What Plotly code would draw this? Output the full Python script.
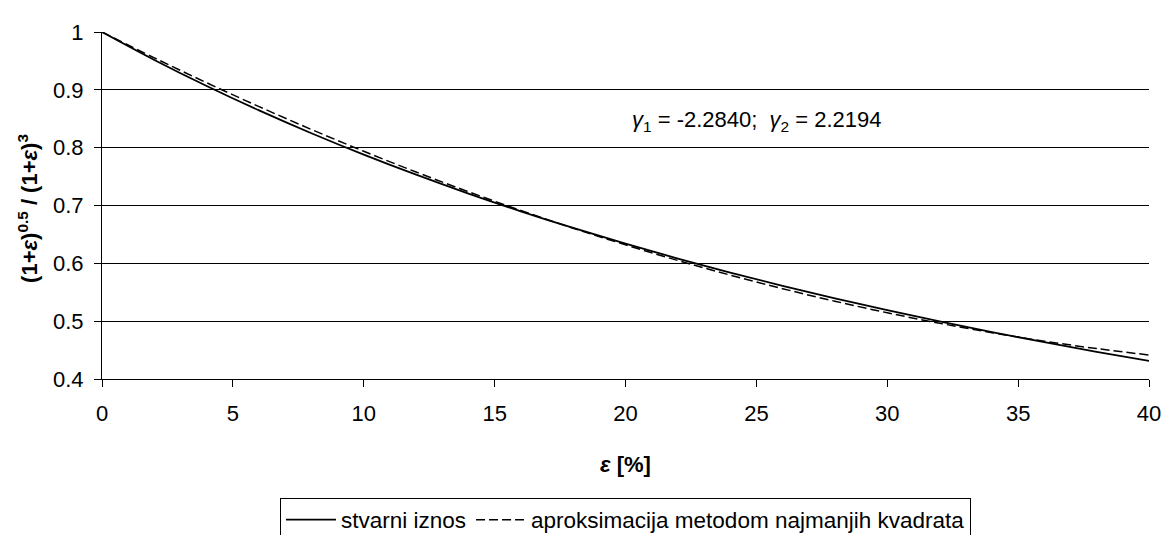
import plotly.graph_objects as go

eps_pct = [0, 2, 4, 6, 8, 10, 12, 14, 16, 18, 20, 22, 24, 26, 28, 30, 32, 34, 36, 38, 40]
actual = [1.0, 0.95170, 0.90660, 0.86444, 0.82498, 0.78799, 0.75328, 0.72067, 0.69001,
          0.66114, 0.63394, 0.60828, 0.58405, 0.56115, 0.53948, 0.51897, 0.49953,
          0.48110, 0.46361, 0.44699, 0.43120]
approx = [1.0, 0.95521, 0.91219, 0.87095, 0.83148, 0.79379, 0.75788, 0.72374, 0.69138,
          0.66079, 0.63198, 0.60494, 0.57968, 0.55619, 0.53448, 0.51455, 0.49639,
          0.48000, 0.46539, 0.45256, 0.44150]
x_ticks = [0, 5, 10, 15, 20, 25, 30, 35, 40]
y_ticks = [0.4, 0.5, 0.6, 0.7, 0.8, 0.9, 1.0]
y_tick_labels = ["0.4", "0.5", "0.6", "0.7", "0.8", "0.9", "1"]
series_names = ["stvarni iznos", "aproksimacija metodom najmanjih kvadrata"]

FONT = "Liberation Sans, Arial, sans-serif"
FS = 22

fig = go.Figure()
fig.add_trace(go.Scatter(x=eps_pct, y=actual, mode="lines", name=series_names[0],
                         line=dict(color="black", width=1.8, shape="spline")))
fig.add_trace(go.Scatter(x=eps_pct, y=approx, mode="lines", name=series_names[1],
                         line=dict(color="black", width=1.5, dash="9px,4px", shape="spline")))

fig.update_layout(
    width=1165, height=527,
    margin=dict(l=94, r=24, t=16, b=156),
    paper_bgcolor="white", plot_bgcolor="white",
    font=dict(family=FONT, size=FS, color="black"),
    showlegend=True,
    legend=dict(orientation="h", xref="paper", x=0.5, xanchor="center",
                yref="container", y=0.071, yanchor="top",
                bordercolor="black", borderwidth=1, bgcolor="white",
                font=dict(size=22.5), itemwidth=50, tracegroupgap=0),
    xaxis=dict(range=[0, 40], tickvals=x_ticks, ticks="outside", ticklen=7,
               tickcolor="black", showline=True, linecolor="black", linewidth=1,
               showgrid=False, zeroline=False, tickfont=dict(size=FS),
               ticklabelstandoff=8),
    yaxis=dict(range=[0.4, 1.0], tickvals=y_ticks, ticktext=y_tick_labels,
               ticks="outside", ticklen=7, tickcolor="black",
               showline=True, linecolor="black", linewidth=1,
               showgrid=True, gridcolor="black", gridwidth=1, zeroline=False,
               tickfont=dict(size=FS), ticklabelstandoff=6),
    annotations=[
        dict(text="<b><i>ε</i> [%]</b>", x=0.5, y=-0.245, xref="paper", yref="paper",
             xanchor="center", yanchor="middle", showarrow=False,
             font=dict(size=FS, family=FONT)),
        dict(text="<b>(1+<i>ε</i>)<sup>0.5</sup> / (1+<i>ε</i>)<sup>3</sup></b>",
             x=-0.0707, y=0.493, xref="paper", yref="paper", textangle=-90,
             xanchor="center", yanchor="middle", showarrow=False,
             font=dict(size=FS, family=FONT)),
        dict(text="<i>γ</i><sub>1</sub> = -2.2840;  <i>γ</i><sub>2</sub> = 2.2194",
             x=20.17, y=0.846, xref="x", yref="y", xanchor="left", yanchor="middle",
             showarrow=False, font=dict(size=FS, family=FONT)),
    ],
)

fig.write_html("out.html")
